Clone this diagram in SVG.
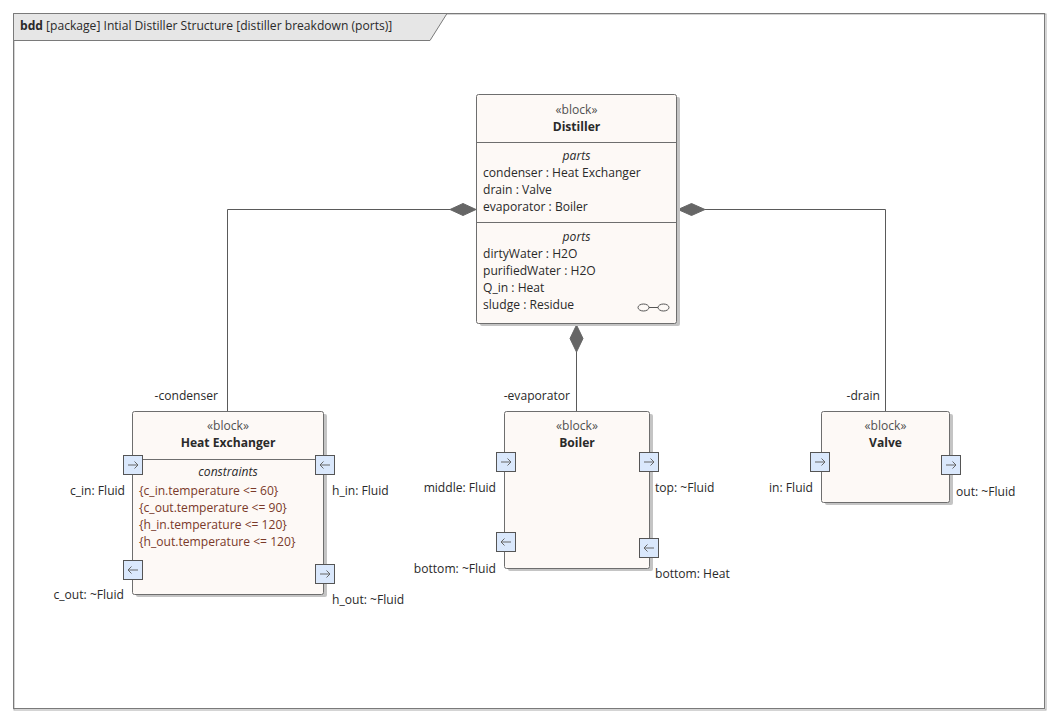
<svg xmlns="http://www.w3.org/2000/svg" xmlns:xlink="http://www.w3.org/1999/xlink" width="1064" height="727" viewBox="0 0 1064 727">
<style>
.t{font-family:"Open Sans","Noto Sans","DejaVu Sans",sans-serif;font-size:12.1px;fill:#2a2a2a}
.c{text-anchor:middle}
.e{text-anchor:end}
.b{font-weight:bold}
.i{font-style:italic}
.st{fill:#505050}
.k{fill:#7a3a2a}
.blk{fill:#fdf9f6;stroke:#6e6e6e;stroke-width:1}
.sh{fill:#c4c4c4}
.sep{stroke:#6e6e6e;stroke-width:1}
.ln{fill:none;stroke:#5a5a5a;stroke-width:1}
.dm{fill:#666;stroke:#666;stroke-width:1}
</style>
<defs>
<g id="pr"><rect x="0.5" y="0.5" width="19" height="19" fill="#dae8fc" stroke="#555"/><path d="M5,10H15M11.5,6.5L15,10L11.5,13.5" fill="none" stroke="#666"/></g>
<g id="pl"><rect x="0.5" y="0.5" width="19" height="19" fill="#dae8fc" stroke="#555"/><path d="M15,10H5M8.5,6.5L5,10L8.5,13.5" fill="none" stroke="#666"/></g>
</defs>
<rect width="1064" height="727" fill="#fff"/>
<g id="frame">
<rect x="14" y="14" width="1032" height="696" fill="none" stroke="#aaa" stroke-width="1"/>
<rect x="13.5" y="13.5" width="1031" height="695" fill="none" stroke="#7a7a7a" stroke-width="1"/>
<path d="M13.5,13.5H447L430,40.5H13.5Z" fill="#e6e6e6" stroke="#7a7a7a" stroke-width="1"/>
<text x="20" y="30" class="t"><tspan class="b">bdd</tspan> [package] Intial Distiller Structure [distiller breakdown (ports)]</text>
</g>
<g id="connectors">
<path class="ln" d="M450,209.5H227.5V411"/>
<path class="dm" d="M476,209.5L463,203.5L450,209.5L463,215.5Z"/>
<path class="ln" d="M705,209.5H885.5V411"/>
<path class="dm" d="M678,209.5L691.5,203.5L705,209.5L691.5,215.5Z"/>
<path class="ln" d="M576.5,352V411"/>
<path class="dm" d="M576.5,325L583,338.5L576.5,352L570,338.5Z"/>
<text x="218" y="400" class="t e">-condenser</text>
<text x="570" y="400" class="t e">-evaporator</text>
<text x="880" y="400" class="t e">-drain</text>
</g>
<g id="distiller">
<rect x="480" y="97" width="200" height="229" rx="2" class="sh"/>
<rect x="476.5" y="94.5" width="200" height="229" rx="2" class="blk"/>
<line x1="476.5" y1="142.5" x2="676.5" y2="142.5" class="sep"/>
<line x1="476.5" y1="222.5" x2="676.5" y2="222.5" class="sep"/>
<text x="576.5" y="114" class="t c st">«block»</text>
<text x="576.5" y="131" class="t c b">Distiller</text>
<text x="576.5" y="160" class="t c i">parts</text>
<text x="483" y="177" class="t">condenser : Heat Exchanger</text>
<text x="483" y="194" class="t">drain : Valve</text>
<text x="483" y="211" class="t">evaporator : Boiler</text>
<text x="576.5" y="241" class="t c i">ports</text>
<text x="483" y="258" class="t">dirtyWater : H2O</text>
<text x="483" y="275" class="t">purifiedWater : H2O</text>
<text x="483" y="292" class="t">Q_in : Heat</text>
<text x="483" y="309" class="t">sludge : Residue</text>
<ellipse cx="643.5" cy="307.5" rx="5.5" ry="3.5" fill="none" stroke="#555"/>
<ellipse cx="663.5" cy="307.5" rx="5.5" ry="3.5" fill="none" stroke="#555"/>
<line x1="649" y1="307.5" x2="658" y2="307.5" stroke="#555"/>
</g>
<g id="heatexchanger">
<rect x="136" y="414" width="191" height="183" rx="2" class="sh"/>
<rect x="132.5" y="411.5" width="191" height="183" rx="2" class="blk"/>
<line x1="132.5" y1="459.5" x2="323.5" y2="459.5" class="sep"/>
<text x="228" y="430" class="t c st">«block»</text>
<text x="228" y="447" class="t c b">Heat Exchanger</text>
<text x="228" y="476" class="t c i">constraints</text>
<text x="139" y="495" class="t k">{c_in.temperature &lt;= 60}</text>
<text x="139" y="512" class="t k">{c_out.temperature &lt;= 90}</text>
<text x="139" y="529" class="t k">{h_in.temperature &lt;= 120}</text>
<text x="139" y="546" class="t k">{h_out.temperature &lt;= 120}</text>
<use xlink:href="#pr" x="123" y="455"/>
<use xlink:href="#pl" x="315" y="455"/>
<use xlink:href="#pl" x="123" y="560"/>
<use xlink:href="#pr" x="315" y="564"/>
<text x="125" y="495" class="t e">c_in: Fluid</text>
<text x="332" y="495" class="t">h_in: Fluid</text>
<text x="124" y="599" class="t e">c_out: ~Fluid</text>
<text x="332" y="604" class="t">h_out: ~Fluid</text>
</g>
<g id="boiler">
<rect x="508" y="414" width="145" height="157" rx="2" class="sh"/>
<rect x="504.5" y="411.5" width="145" height="157" rx="2" class="blk"/>
<text x="577" y="430" class="t c st">«block»</text>
<text x="577" y="447" class="t c b">Boiler</text>
<use xlink:href="#pr" x="496" y="452"/>
<use xlink:href="#pr" x="639" y="452"/>
<use xlink:href="#pl" x="496" y="532"/>
<use xlink:href="#pl" x="639" y="538"/>
<text x="496" y="492" class="t e">middle: Fluid</text>
<text x="655" y="492" class="t">top: ~Fluid</text>
<text x="496" y="573" class="t e">bottom: ~Fluid</text>
<text x="655" y="578" class="t">bottom: Heat</text>
</g>
<g id="valve">
<rect x="825" y="414" width="128" height="91" rx="2" class="sh"/>
<rect x="821.5" y="411.5" width="128" height="91" rx="2" class="blk"/>
<text x="885.5" y="430" class="t c st">«block»</text>
<text x="885.5" y="447" class="t c b">Valve</text>
<use xlink:href="#pr" x="810" y="452"/>
<use xlink:href="#pr" x="941" y="455"/>
<text x="813" y="492" class="t e">in: Fluid</text>
<text x="956" y="496" class="t">out: ~Fluid</text>
</g>
</svg>
